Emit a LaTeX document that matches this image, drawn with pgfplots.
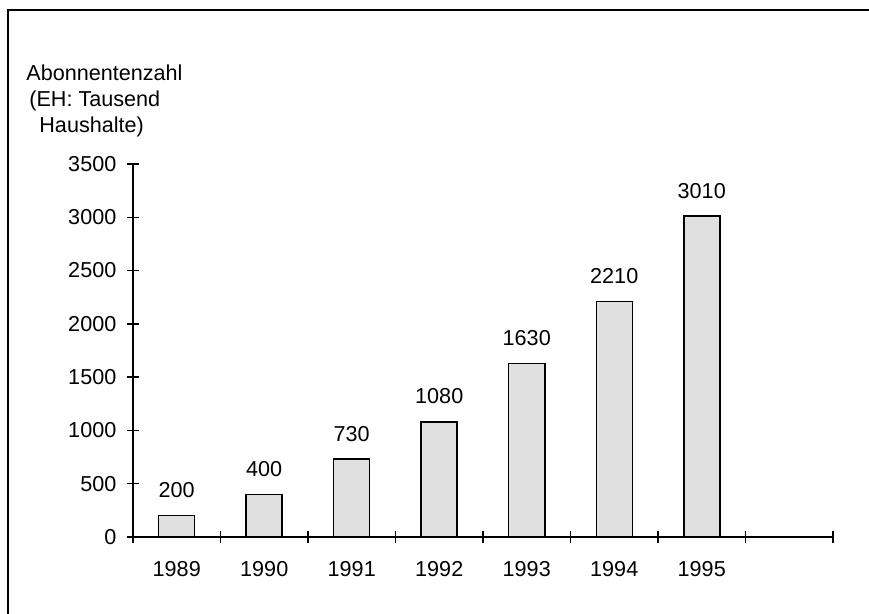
\documentclass[border=0pt]{standalone}
\usepackage{fontspec}
\setmainfont{Liberation Sans}
\usepackage{pgfplots}
\pgfplotsset{compat=1.18}

\definecolor{barfill}{RGB}{224,224,224}

\begin{document}
\fontsize{10.8}{13}\selectfont
\begin{tikzpicture}
  % overall canvas
  \useasboundingbox (-66.5pt,-38.5pt) rectangle (368pt,268.5pt);
  \begin{axis}[
    at={(0,0)}, anchor=origin,
    scale only axis,
    width=350pt, height=186.5pt,
    xmin=0, xmax=8, ymin=0, ymax=3500,
    enlargelimits=false,
    clip=false,
    axis lines=left,
    axis line style={-, line width=0.75pt},
    tick align=center,
    tick style={line width=0.75pt, black},
    major tick length=5.7pt,
    minor tick length=6.3pt,
    ytick={0,500,...,3500},
    xtick={0.5,1.5,...,6.5},
    xticklabels={1989,1990,1991,1992,1993,1994,1995},
    minor xtick={0,1,...,8},
    major x tick style={draw=none},
    xticklabel style={anchor=base, inner sep=0pt, yshift=-16.9pt},
    yticklabel style={anchor=east, inner sep=0pt, xshift=-5.3pt},
    scaled ticks=false,
    /pgf/number format/assume math mode=true,
    /pgf/number format/1000 sep={},
    ytick style={line width=0.75pt},
    nodes near coords,
    every node near coord/.append style={anchor=base, inner sep=0pt, yshift=9pt, black},
  ]
    \addplot[ybar, bar width=18pt, fill=barfill, draw=black, line width=0.75pt]
      coordinates {(0.5,200) (1.5,400) (2.5,730) (3.5,1080) (4.5,1630) (5.5,2210) (6.5,3010)};
  \end{axis}
  % axis title, three lines
  \node[anchor=base west, inner sep=0pt] at (-53.5pt,228.25pt) {Abonnentenzahl};
  \node[anchor=base west, inner sep=0pt] at (-52pt,215pt) {(EH: Tausend};
  \node[anchor=base west, inner sep=0pt] at (-47pt,202pt) {Haushalte)};
  % frame: top and left edges
  \draw[line width=1pt] (368pt,263.5pt) -- (-62.35pt,263.5pt) -- (-62.35pt,-38.5pt);
\end{tikzpicture}
\end{document}
